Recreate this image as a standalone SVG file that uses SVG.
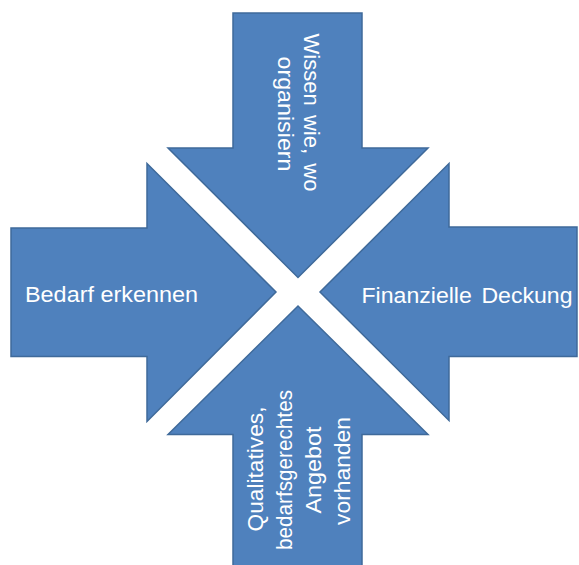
<svg xmlns="http://www.w3.org/2000/svg" width="579" height="565" viewBox="0 0 579 565">
  <style>
    .arrow { fill: #4F81BD; stroke: #3F6A9A; stroke-width: 1.5; stroke-linejoin: miter; }
    .label { fill: #FFFFFF; font-family: "Liberation Sans", Arial, sans-serif; font-size: 22px; text-anchor: middle; }
    .wide { word-spacing: 3px; }
  </style>
  <rect width="579" height="565" fill="#FFFFFF"/>

  <!-- arrow pointing down from the top -->
  <g id="wissen">
    <path class="arrow" d="M233,13 L362,13 L362,148 L428,148 L298,277.5 L168,148 L233,148 Z"/>
    <g transform="rotate(90)">
      <text class="label wide" x="112.5" y="-303.5" textLength="158" lengthAdjust="spacingAndGlyphs">Wissen wie, wo</text>
      <text class="label" x="114" y="-278" textLength="115" lengthAdjust="spacingAndGlyphs">organisiern</text>
    </g>
  </g>

  <!-- arrow pointing right from the left -->
  <g id="bedarf">
    <path class="arrow" d="M11,228 L147,228 L147,163.5 L276,292 L147,421.5 L147,356.5 L11,356.5 Z"/>
    <text class="label" x="111.5" y="301.5" textLength="173" lengthAdjust="spacingAndGlyphs">Bedarf erkennen</text>
  </g>

  <!-- arrow pointing left from the right -->
  <g id="finanzen">
    <path class="arrow" d="M577,227 L449,227 L449,163.5 L320,292 L449,420.5 L449,356.5 L577,356.5 Z"/>
    <text class="label wide" x="467" y="302.5" textLength="211" lengthAdjust="spacingAndGlyphs">Finanzielle Deckung</text>
  </g>

  <!-- arrow pointing up from the bottom -->
  <g id="angebot">
    <path class="arrow" d="M233,570 L362,570 L362,434.5 L428,434.5 L298,306 L168,434.5 L233,434.5 Z"/>
    <g transform="rotate(-90)">
      <text class="label" x="-469" y="262.5" textLength="125" lengthAdjust="spacingAndGlyphs">Qualitatives,</text>
      <text class="label" x="-470" y="291.5" textLength="160" lengthAdjust="spacingAndGlyphs">bedarfsgerechtes</text>
      <text class="label" x="-470" y="320.5" textLength="87" lengthAdjust="spacingAndGlyphs">Angebot</text>
      <text class="label" x="-471" y="349.5" textLength="108" lengthAdjust="spacingAndGlyphs">vorhanden</text>
    </g>
  </g>
</svg>
